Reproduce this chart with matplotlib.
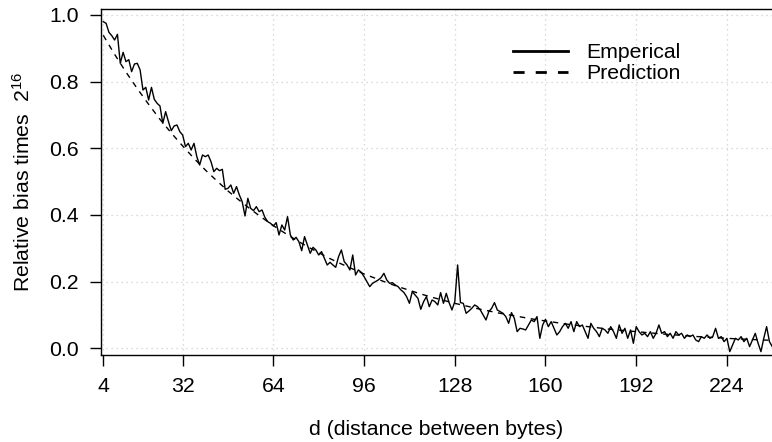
import matplotlib
matplotlib.use("Agg")
import matplotlib.pyplot as plt

# ---- data ----
d_start = 4
emperical = [
    0.980, 0.975, 0.948, 0.938, 0.925, 0.942, 0.855, 0.888, 0.860, 0.866,   # 4-13
    0.830, 0.853, 0.855, 0.835, 0.775, 0.783, 0.745, 0.783, 0.747, 0.735,   # 14-23
    0.727, 0.675, 0.710, 0.680, 0.653, 0.667, 0.670, 0.650, 0.640, 0.605,   # 24-33
    0.615, 0.595, 0.615, 0.575, 0.550, 0.580, 0.575, 0.580, 0.560, 0.530,   # 34-43
    0.540, 0.533, 0.537, 0.477, 0.480, 0.490, 0.465, 0.485, 0.460, 0.440,   # 44-53
    0.397, 0.450, 0.420, 0.413, 0.425, 0.410, 0.415, 0.393, 0.380, 0.375,   # 54-63
    0.367, 0.377, 0.340, 0.370, 0.355, 0.395, 0.340, 0.325, 0.333, 0.320,   # 64-73
    0.293, 0.335, 0.310, 0.285, 0.303, 0.295, 0.280, 0.290, 0.270, 0.250,   # 74-83
    0.258, 0.250, 0.243, 0.275, 0.295, 0.260, 0.250, 0.235, 0.280, 0.220,   # 84-93
    0.235, 0.228, 0.215, 0.200, 0.185, 0.195, 0.200, 0.205, 0.212, 0.225,   # 94-103
    0.205, 0.195, 0.197, 0.190, 0.185, 0.175, 0.168, 0.155, 0.135, 0.170,   # 104-113
    0.160, 0.150, 0.117, 0.140, 0.155, 0.125, 0.145, 0.140, 0.130, 0.167,   # 114-123
    0.135, 0.165, 0.137, 0.115, 0.140, 0.250, 0.137, 0.135, 0.105, 0.112,   # 124-133
    0.120, 0.130, 0.125, 0.115, 0.100, 0.085, 0.110, 0.120, 0.137, 0.115,   # 134-143
    0.110, 0.105, 0.095, 0.075, 0.107, 0.090, 0.050, 0.060, 0.058, 0.055,   # 144-153
    0.070, 0.085, 0.080, 0.095, 0.030, 0.070, 0.087, 0.065, 0.080, 0.060,   # 154-163
    0.040, 0.050, 0.065, 0.075, 0.060, 0.080, 0.050, 0.080, 0.065, 0.070,   # 164-173
    0.050, 0.030, 0.075, 0.060, 0.050, 0.035, 0.060, 0.055, 0.045, 0.065,   # 174-183
    0.050, 0.030, 0.070, 0.045, 0.060, 0.030, 0.055, 0.015, 0.065, 0.050,   # 184-193
    0.040, 0.045, 0.035, 0.050, 0.030, 0.045, 0.070, 0.045, 0.050, 0.035,   # 194-203
    0.045, 0.030, 0.050, 0.040, 0.045, 0.030, 0.040, 0.035, 0.040, 0.025,   # 204-213
    0.020, 0.035, 0.030, 0.040, 0.030, 0.035, 0.060, 0.030, 0.035, 0.020,   # 214-223
    0.030, -0.010, 0.010, 0.030, 0.025, 0.035, 0.020, 0.030, 0.005, 0.025,  # 224-233
    0.045, 0.015, -0.010, 0.030, 0.065, 0.020, 0.005,                       # 234-240
]
d_emp = list(range(d_start, d_start + len(emperical)))

d_pred = list(range(4, 241, 4))
prediction = [
    0.939, 0.882, 0.829, 0.779, 0.732, 0.687, 0.646, 0.607, 0.570, 0.535,
    0.503, 0.472, 0.444, 0.417, 0.392, 0.368, 0.346, 0.325, 0.305, 0.287,
    0.269, 0.253, 0.238, 0.223, 0.210, 0.197, 0.185, 0.174, 0.163, 0.153,
    0.144, 0.135, 0.127, 0.119, 0.112, 0.105, 0.099, 0.093, 0.087, 0.082,
    0.077, 0.072, 0.068, 0.064, 0.060, 0.056, 0.053, 0.050, 0.047, 0.044,
    0.041, 0.039, 0.036, 0.034, 0.032, 0.030, 0.028, 0.027, 0.025, 0.024,
]

x_ticks = [4, 32, 64, 96, 128, 160, 192, 224]
y_ticks = [0.0, 0.2, 0.4, 0.6, 0.8, 1.0]
y_tick_labels = ["0.0", "0.2", "0.4", "0.6", "0.8", "1.0"]

# ---- style ----
plt.rcParams["font.family"] = ["Liberation Sans", "DejaVu Sans"]
plt.rcParams["mathtext.fontset"] = "custom"
plt.rcParams["mathtext.rm"] = "Liberation Sans"
plt.rcParams["mathtext.it"] = "Liberation Sans:italic"
plt.rcParams["mathtext.bf"] = "Liberation Sans:bold"
FS = 15.3

W, H = 772, 442
fig = plt.figure(figsize=(W / 100, H / 100), dpi=100)
L, R, T, B = 101, 772, 9.3, 354.7
ax = fig.add_axes([L / W, 1 - B / H, (R - L) / W, (B - T) / H])

ax.set_xlim(3.2, 239.9)
ax.set_ylim(-0.0192, 1.0171)

# grid
for xv in x_ticks:
    ax.axvline(xv, color="#cfcfcf", lw=0.9, ls=(0, (1, 3)), zorder=0)
for yv in y_ticks:
    ax.axhline(yv, color="#cfcfcf", lw=0.9, ls=(0, (1, 3)), zorder=0)

ax.plot(d_emp, emperical, color="black", lw=1.0, label="Emperical", zorder=3)
ax.plot(d_pred, prediction, color="black", lw=1.0, dashes=(4, 4),
        label="Prediction", zorder=2)

ax.set_xticks(x_ticks)
ax.set_xticklabels([str(v) for v in x_ticks], fontsize=FS)
ax.set_yticks(y_ticks)
ax.set_yticklabels(y_tick_labels, fontsize=FS)
ax.tick_params(axis="both", direction="out", length=8, width=1.0,
               color="black", pad=8)

for side in ["left", "top", "bottom"]:
    ax.spines[side].set_linewidth(1.0)
    ax.spines[side].set_color("black")
ax.spines["right"].set_visible(False)

ax.set_xlabel("d (distance between bytes)", fontsize=FS)
ax.xaxis.set_label_coords(0.5, -(420 - B) / (B - T))
ax.set_ylabel("Relative bias times  $2^{16}$", fontsize=FS)
ax.yaxis.set_label_coords(-(L - 34) / (R - L), 0.5)

leg = ax.legend(loc="upper left", bbox_to_anchor=(513 / W, 1 - 43 / H),
                bbox_transform=fig.transFigure, frameon=False, fontsize=FS,
                handlelength=2.6, handletextpad=0.85, labelspacing=0.1,
                borderpad=0, borderaxespad=0)
for ln in leg.get_lines():
    ln.set_linewidth(2.0)

fig.savefig("out.png", dpi=100)
